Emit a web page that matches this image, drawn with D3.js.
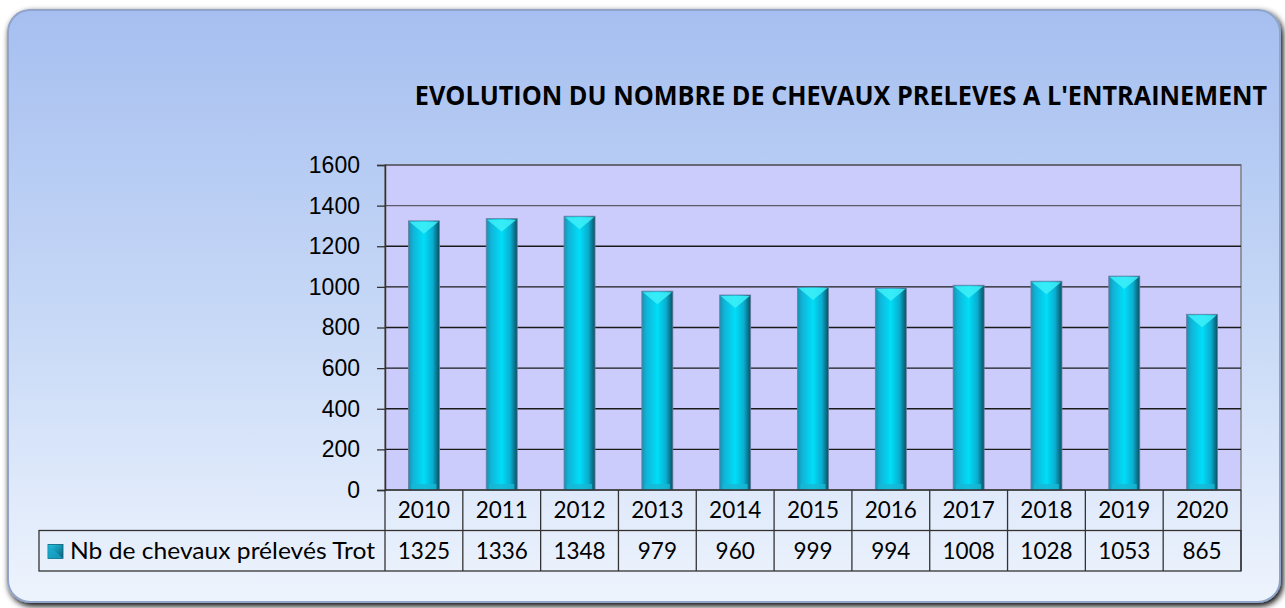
<!DOCTYPE html>
<html>
<head>
<meta charset="utf-8">
<script src="https://cdn.jsdelivr.net/npm/d3@7"></script>
<style>
  body { margin: 0; background: #ffffff; }
  svg { display: block; }
</style>
</head>
<body>
<svg id="chart" width="1285" height="608"></svg>
<script>
// data
var years = ["2010","2011","2012","2013","2014","2015","2016","2017","2018","2019","2020"];
var trot = [1325,1336,1348,979,960,999,994,1008,1028,1053,865];
var seriesName = "Nb de chevaux prélevés Trot";
var yTicks = [0,200,400,600,800,1000,1200,1400,1600];
var title = "EVOLUTION DU NOMBRE DE CHEVAUX PRELEVES A L'ENTRAINEMENT";

// layout
var W = 1285, H = 608;
var plot = {left: 385, right: 1241, top: 165, bottom: 490};
var rowH = 40.5;
var legendLeft = 39;
var tableFont = "Lato, 'Open Sans', sans-serif";

var svg = d3.select("#chart");
var defs = svg.append("defs");

// background gradient
var bg = defs.append("linearGradient").attr("id","bgGrad")
  .attr("x1",0).attr("y1",0).attr("x2",0).attr("y2",1);
bg.append("stop").attr("offset","0%").attr("stop-color","#a6bff0");
bg.append("stop").attr("offset","55%").attr("stop-color","#c9daf7");
bg.append("stop").attr("offset","100%").attr("stop-color","#eef4fd");

// bar cylinder gradient
var barG = defs.append("linearGradient").attr("id","barGrad")
  .attr("x1",0).attr("y1",0).attr("x2",1).attr("y2",0);
barG.append("stop").attr("offset","0%").attr("stop-color","#1a8fb0");
barG.append("stop").attr("offset","15%").attr("stop-color","#10b4d8");
barG.append("stop").attr("offset","50%").attr("stop-color","#00def8");
barG.append("stop").attr("offset","78%").attr("stop-color","#0aaed0");
barG.append("stop").attr("offset","100%").attr("stop-color","#0b4f62");

var legG = defs.append("linearGradient").attr("id","legGrad")
  .attr("x1",0).attr("y1",0).attr("x2",1).attr("y2",1);
legG.append("stop").attr("offset","0%").attr("stop-color","#22c8e8");
legG.append("stop").attr("offset","100%").attr("stop-color","#0a5f78");

var shadow = defs.append("filter").attr("id","shadow")
  .attr("x","-5%").attr("y","-5%").attr("width","110%").attr("height","115%");
shadow.append("feGaussianBlur").attr("in","SourceAlpha").attr("stdDeviation",3);
shadow.append("feOffset").attr("dx",2).attr("dy",3).attr("result","ob");
var fm = shadow.append("feMerge");
fm.append("feMergeNode").attr("in","ob");
fm.append("feMergeNode").attr("in","SourceGraphic");

var soft = defs.append("filter").attr("id","soft");
soft.append("feGaussianBlur").attr("stdDeviation",1.5);

// background panel
svg.append("rect")
  .attr("x",8).attr("y",10).attr("width",1272).attr("height",592)
  .attr("rx",22).attr("ry",22)
  .attr("fill","url(#bgGrad)")
  .attr("stroke","#8fa4c8").attr("stroke-width",2)
  .attr("filter","url(#shadow)");
svg.append("path")
  .attr("d","M32,22 H1262")
  .attr("stroke","#d4ebfb").attr("stroke-width",4).attr("stroke-linecap","round")
  .attr("opacity",0.7).attr("filter","url(#soft)");

// title - squeezed horizontally to the width of the original condensed font
var titleText = svg.append("text")
  .attr("text-anchor","middle")
  .attr("font-family","'Open Sans', sans-serif")
  .attr("font-weight","bold")
  .attr("font-size",26)
  .attr("fill","#000")
  .text(title);
var natural = titleText.node().getComputedTextLength();
var sx = Math.min(1, 853 / natural);
titleText.attr("transform","translate(841,105) scale("+sx+",1)");

// scales
var x = d3.scaleBand().domain(years).range([plot.left, plot.right]).paddingInner(0).paddingOuter(0);
var y = d3.scaleLinear().domain([0,1600]).range([plot.bottom, plot.top]);

// plot area
svg.append("rect")
  .attr("x",plot.left).attr("y",plot.top)
  .attr("width",plot.right-plot.left).attr("height",plot.bottom-plot.top)
  .attr("fill","#ccccfc")
  .attr("stroke","#808080").attr("stroke-width",1.5);

// gridlines
svg.append("g").selectAll("line").data(yTicks.filter(function(d){ return d>0; }))
  .enter().append("line")
  .attr("x1",plot.left).attr("x2",plot.right)
  .attr("y1",function(d){ return y(d); }).attr("y2",function(d){ return y(d); })
  .attr("stroke",function(d){ return d>=1400 ? "#5a5a6a" : "#1a1a1a"; })
  .attr("stroke-width",1.3);

// y axis
var yAxis = d3.axisLeft(y).tickValues(yTicks).tickFormat(d3.format("d")).tickSize(8).tickPadding(17);
var ya = svg.append("g").attr("transform","translate("+plot.left+",0)").call(yAxis);
ya.select(".domain").attr("stroke","#333").attr("stroke-width",1.5);
ya.selectAll(".tick line").attr("stroke","#333").attr("stroke-width",1.3);
ya.selectAll("text")
  .attr("font-family","Arial, 'Liberation Sans', sans-serif")
  .attr("font-size",23).attr("fill","#000");

// bars
var barW = 31;
var bars = svg.append("g").selectAll("g.bar").data(trot).enter().append("g").attr("class","bar");
bars.append("rect")
  .attr("x",function(d,i){ return x(years[i]) + x.bandwidth()/2 - barW/2; })
  .attr("y",function(d){ return y(d); })
  .attr("width",barW)
  .attr("height",function(d){ return y(0) - y(d); })
  .attr("fill","url(#barGrad)")
  .attr("stroke","#6a7fa0").attr("stroke-width",0.8);
// top bevel highlight
bars.append("path")
  .attr("d",function(d,i){
    var x0 = x(years[i]) + x.bandwidth()/2 - barW/2, y0 = y(d);
    return "M"+(x0+1)+","+(y0+1)+" L"+(x0+barW-1)+","+(y0+1)+" L"+(x0+barW/2)+","+(y0+13)+" Z";
  })
  .attr("fill","#3ef0f8").attr("opacity",0.85);
// bottom bevel
bars.append("rect")
  .attr("x",function(d,i){ return x(years[i]) + x.bandwidth()/2 - barW/2 + 3; })
  .attr("y",y(0)-6)
  .attr("width",barW-6).attr("height",5)
  .attr("fill","#18b8d4").attr("opacity",0.8);

// data table
var tbl = svg.append("g");
var r1 = plot.bottom, r2 = plot.bottom + rowH, r3 = plot.bottom + 2*rowH;
tbl.append("rect")
  .attr("x",legendLeft).attr("y",r2).attr("width",plot.right-legendLeft).attr("height",rowH)
  .attr("fill","none").attr("stroke","#333").attr("stroke-width",1.3);
tbl.append("line").attr("x1",plot.left).attr("x2",plot.right).attr("y1",r1).attr("y2",r1)
  .attr("stroke","#333").attr("stroke-width",1.5);
tbl.append("line").attr("x1",plot.right).attr("x2",plot.right).attr("y1",r1).attr("y2",r3)
  .attr("stroke","#333").attr("stroke-width",1.3);
tbl.selectAll("line.sep").data(years).enter().append("line").attr("class","sep")
  .attr("x1",function(d){ return x(d); }).attr("x2",function(d){ return x(d); })
  .attr("y1",r1).attr("y2",r3)
  .attr("stroke","#333").attr("stroke-width",1.3);
tbl.selectAll("text.yr").data(years).enter().append("text").attr("class","yr")
  .attr("x",function(d){ return x(d) + x.bandwidth()/2; })
  .attr("y",r1 + rowH/2 + 8)
  .attr("text-anchor","middle")
  .attr("font-family",tableFont).attr("font-size",22.5).attr("fill","#000")
  .text(function(d){ return d; });
tbl.selectAll("text.val").data(trot).enter().append("text").attr("class","val")
  .attr("x",function(d,i){ return x(years[i]) + x.bandwidth()/2; })
  .attr("y",r2 + rowH/2 + 8)
  .attr("text-anchor","middle")
  .attr("font-family",tableFont).attr("font-size",22.5).attr("fill","#000")
  .text(function(d){ return d; });

// legend key
tbl.append("rect")
  .attr("x",48).attr("y",r2+14).attr("width",15).attr("height",14)
  .attr("fill","url(#legGrad)").attr("stroke","#0a5f78").attr("stroke-width",0.8);
tbl.append("path")
  .attr("d","M48,"+(r2+14)+" L63,"+(r2+28)+" L48,"+(r2+28)+" Z")
  .attr("fill","#1aa8cc").attr("opacity",0.7);
tbl.append("text")
  .attr("x",70).attr("y",r2 + rowH/2 + 8)
  .attr("font-family",tableFont).attr("font-size",23.5).attr("fill","#000")
  .attr("textLength",305).attr("lengthAdjust","spacingAndGlyphs")
  .text(seriesName);
</script>
</body>
</html>
